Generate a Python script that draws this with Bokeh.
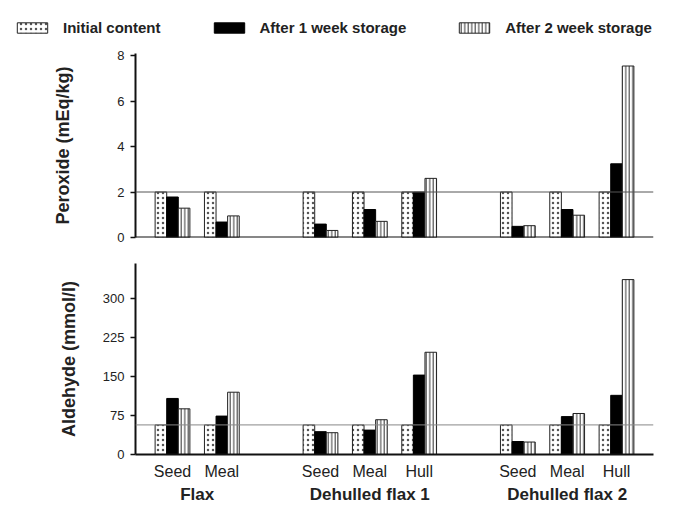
from bokeh.plotting import figure
from bokeh.models import (ColumnDataSource, FactorRange, Range1d, FixedTicker, Span,
                          Legend, LegendItem)
from bokeh.transform import dodge
from bokeh.layouts import column, row
from bokeh.embed import file_html
from bokeh.resources import INLINE

# ---------------- data ----------------
GROUPS = ["Flax", "Dehulled flax 1", "Dehulled flax 2"]
ITEMS = [["Seed", "Meal"], ["Seed", "Meal", "Hull"], ["Seed", "Meal", "Hull"]]
SERIES = ["Initial content", "After 1 week storage", "After 2 week storage"]

perox_initial = [2.0, 2.0, 2.0, 2.0, 2.0, 2.0, 2.0, 2.0]
perox_week1 = [1.78, 0.68, 0.59, 1.23, 2.0, 0.49, 1.23, 3.24]
perox_week2 = [1.29, 0.95, 0.31, 0.71, 2.6, 0.52, 0.98, 7.54]

ald_initial = [57, 57, 57, 57, 57, 57, 57, 57]
ald_week1 = [108, 74, 44, 47, 153, 25, 73, 114]
ald_week2 = [88, 120, 42, 67, 197, 24, 79, 337]

perox_ticks = [0, 2, 4, 6, 8]
ald_ticks = [0, 75, 150, 225, 300]
perox_ref = 2
ald_ref = 57

# ---------------- styling ----------------
FONT = "Liberation Sans"
TXT = "#222222"
factors = [(g, it) for g, its in zip(GROUPS, ITEMS) for it in its]

W = 673
BW = 0.235

STYLE_INIT = dict(fill_color="white", line_color="#222222", line_width=1,
                  hatch_pattern="dot", hatch_color="#555555", hatch_scale=5, hatch_weight=1)
STYLE_W1 = dict(fill_color="black", line_color="black", line_width=1)
STYLE_W2 = dict(fill_color="white", line_color="#222222", line_width=1,
                hatch_pattern="vertical_line", hatch_color="#333333", hatch_scale=3.5,
                hatch_weight=1)


def make_fig(height, yend, ticks, ylabel, label_standoff, top_border, bottom_border):
    xr = FactorRange(*factors, group_padding=1.0, factor_padding=0.0,
                     range_padding=0.25, range_padding_units="absolute")
    p = figure(x_range=xr, y_range=Range1d(0, yend), width=W, height=height,
               output_backend="svg", toolbar_location=None,
               min_border_left=135, min_border_right=20,
               min_border_top=top_border, min_border_bottom=bottom_border)
    p.outline_line_color = None
    p.xgrid.grid_line_color = None
    p.ygrid.grid_line_color = None

    ya = p.yaxis[0]
    ya.ticker = FixedTicker(ticks=ticks)
    ya.axis_line_width = 2
    ya.axis_line_color = "#111111"
    ya.major_tick_line_color = "#111111"
    ya.major_tick_line_width = 1.5
    ya.major_tick_out = 5
    ya.major_tick_in = 0
    ya.minor_tick_line_color = None
    ya.major_label_text_font = FONT
    ya.major_label_text_font_size = "13px"
    ya.major_label_text_color = TXT
    ya.major_label_standoff = 6
    ya.axis_label = ylabel
    ya.axis_label_text_font = FONT
    ya.axis_label_text_font_size = "18px"
    ya.axis_label_text_font_style = "bold"
    ya.axis_label_text_color = TXT
    ya.axis_label_standoff = label_standoff

    xa = p.xaxis[0]
    xa.axis_line_width = 2
    xa.axis_line_color = "#111111"
    xa.major_tick_line_color = None
    xa.minor_tick_line_color = None
    xa.separator_line_color = None
    xa.major_label_text_font = FONT
    xa.major_label_text_font_size = "16px"
    xa.major_label_text_color = TXT
    xa.major_label_standoff = 2
    xa.group_text_font = FONT
    xa.group_text_font_size = "17px"
    xa.group_text_font_style = "bold"
    xa.group_text_color = TXT
    return p


def add_bars(p, init, w1, w2, ref, ref_color):
    src = ColumnDataSource(dict(x=factors, a=init, b=w1, c=w2))
    p.vbar(x=dodge("x", -BW, range=p.x_range), top="a", width=BW, source=src, **STYLE_INIT)
    p.vbar(x=dodge("x", 0, range=p.x_range), top="b", width=BW, source=src, **STYLE_W1)
    p.vbar(x=dodge("x", BW, range=p.x_range), top="c", width=BW, source=src, **STYLE_W2)
    p.add_layout(Span(location=ref, dimension="width", line_color=ref_color, line_width=1))


# ---- legend strip (legend proxies lie outside its visible range) ----
leg_fig = figure(width=W, height=45, x_range=Range1d(0, 1), y_range=Range1d(1, 2),
                 output_backend="svg", toolbar_location=None,
                 x_axis_location=None, y_axis_location=None,
                 min_border_left=0, min_border_right=0, min_border_top=0, min_border_bottom=0)
leg_fig.outline_line_color = None
leg_fig.xgrid.visible = False
leg_fig.ygrid.visible = False
proxy = ColumnDataSource(dict(x=[0.5], top=[0]))
l1 = leg_fig.vbar(x="x", top="top", width=0.1, source=proxy, **STYLE_INIT)
l2 = leg_fig.vbar(x="x", top="top", width=0.1, source=proxy, **STYLE_W1)
l3 = leg_fig.vbar(x="x", top="top", width=0.1, source=proxy, **STYLE_W2)
legend = Legend(items=[LegendItem(label=SERIES[0], renderers=[l1]),
                       LegendItem(label=SERIES[1], renderers=[l2]),
                       LegendItem(label=SERIES[2], renderers=[l3])],
                orientation="horizontal", location=(13, 9),
                glyph_width=38, glyph_height=13, label_standoff=12, spacing=49,
                padding=0, margin=0, border_line_color=None,
                background_fill_alpha=0,
                label_text_font=FONT, label_text_font_size="15px",
                label_text_font_style="bold", label_text_color=TXT)
leg_fig.add_layout(legend)

# ---- peroxide panel ----
top = make_fig(207, 8.09, perox_ticks, "Peroxide (mEq/kg)", 41, 8, 15)
top.xaxis.visible = False
top.add_layout(Span(location=0, dimension="width", line_color="#111111", line_width=2))
add_bars(top, perox_initial, perox_week1, perox_week2, perox_ref, "#555555")

# ---- aldehyde panel ----
bottom = make_fig(254, 368, ald_ticks, "Aldehyde (mmol/l)", 21, 11, 40)
add_bars(bottom, ald_initial, ald_week1, ald_week2, ald_ref, "#888888")

layout = column(row(leg_fig), top, bottom, spacing=0)

open("out.html", "w").write(file_html(layout, INLINE))
